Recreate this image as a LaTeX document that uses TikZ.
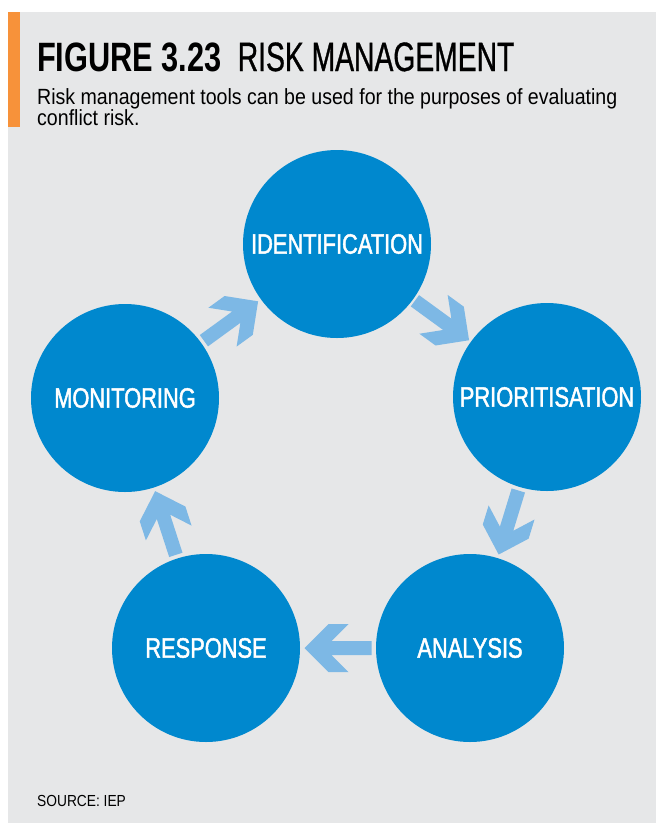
\documentclass[tikz,border=0pt]{standalone}
\usepackage{fontspec}
\usetikzlibrary{calc}
\newfontfamily\labelfont[FakeStretch=0.78,FakeBold=1.6]{Liberation Sans}
\newfontfamily\titleboldfont[FakeStretch=0.75]{Liberation Sans Bold}
\newfontfamily\titlefont[FakeStretch=0.69,FakeBold=0.8]{Liberation Sans}
\newfontfamily\bodyfont[FakeStretch=0.89]{Liberation Sans}
\newfontfamily\sourcefont[FakeStretch=0.86]{Liberation Sans}
\definecolor{bggray}{HTML}{E6E7E8}
\definecolor{barorange}{HTML}{F7923A}
\definecolor{circblue}{HTML}{0088CE}
\definecolor{arrowblue}{HTML}{7DB8E5}
\tikzset{
  stage/.style={circle, fill=circblue, minimum size=188pt, inner sep=0pt,
    text=white, font=\labelfont\fontsize{28}{30}\selectfont},
  arrowfill/.style={fill=arrowblue},
  bodytext/.style={anchor=base west, inner sep=0pt, font=\bodyfont\fontsize{22}{24}\selectfont},
}
\newcommand{\cyclearrow}[2]{%
  \fill[arrowfill] let \p1=($(#2)-(#1)$), \p2=($(#1)!0.5!(#2)$), \n1={atan2(\y1,\x1)} in
    ($(\p2)+(\n1:33.5pt)$)
    -- ($(\p2)+(\n1:9.5pt)+({\n1+90}:24pt)$)
    -- ($(\p2)+(\n1:-10.5pt)+({\n1+90}:24pt)$)
    -- ($(\p2)+(\n1:6.5pt)+({\n1+90}:7pt)$)
    -- ($(\p2)+(\n1:-33.5pt)+({\n1+90}:7pt)$)
    -- ($(\p2)+(\n1:-33.5pt)+({\n1-90}:7pt)$)
    -- ($(\p2)+(\n1:6.5pt)+({\n1-90}:7pt)$)
    -- ($(\p2)+(\n1:-10.5pt)+({\n1-90}:24pt)$)
    -- ($(\p2)+(\n1:9.5pt)+({\n1-90}:24pt)$)
    -- cycle;}
\begin{document}
\begin{tikzpicture}[x=1pt,y=-1pt]
\useasboundingbox (0,0) rectangle (656,823);
\fill[white] (0,0) rectangle (656,823);
\fill[bggray] (8,12) rectangle (656,823);
\fill[barorange] (8,12) rectangle (20,127);
% header
\node[anchor=base west, inner sep=0pt] (title) at (37,71)
  {\fontsize{41}{42}\selectfont\titleboldfont FIGURE 3.23\hspace{16pt}\titlefont RISK MANAGEMENT};
\node[bodytext] (subtitle1) at (37,104) {Risk management tools can be used for the purposes of evaluating};
\node[bodytext] (subtitle2) at (37,125) {conflict risk.};
\node[anchor=base west, inner sep=0pt] (source) at (37,806)
  {\sourcefont\fontsize{16}{18}\selectfont SOURCE: IEP};
% stages
\node[stage] (ident) at (337,244) {IDENTIFICATION};
\node[stage] (prior) at (547,397) {PRIORITISATION};
\node[stage] (anal) at (470,648) {ANALYSIS};
\node[stage] (resp) at (206,648) {RESPONSE};
\node[stage] (monit) at (125,398) {MONITORING};
% arrows
\cyclearrow{monit}{ident}
\cyclearrow{ident}{prior}
\cyclearrow{prior}{anal}
\cyclearrow{anal}{resp}
\cyclearrow{resp}{monit}
\end{tikzpicture}
\end{document}
